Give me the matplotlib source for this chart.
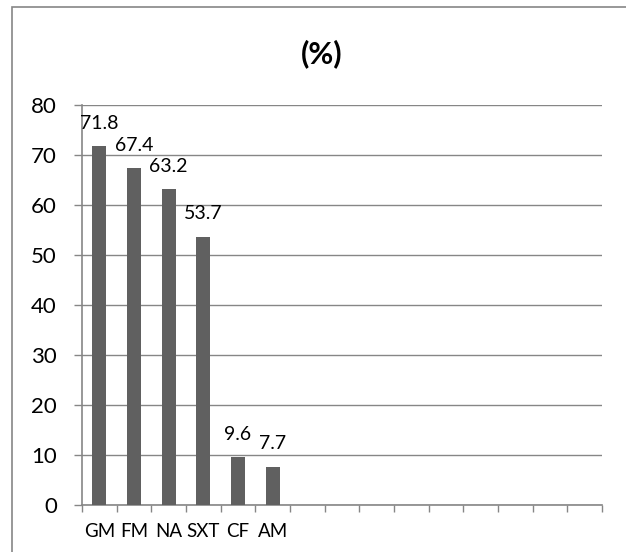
import matplotlib
matplotlib.use("Agg")
import matplotlib.pyplot as plt
from matplotlib.patches import Rectangle
import numpy as np

plt.rcParams['font.family'] = ['Lato', 'DejaVu Sans']

categories = ["GM", "FM", "NA", "SXT", "CF", "AM"]
values = [71.8, 67.4, 63.2, 53.7, 9.6, 7.7]
n_slots = 15
y_ticks = [0, 10, 20, 30, 40, 50, 60, 70, 80]
title = "(%)"

grid_col = "#868686"
bar_col = "#606060"

fig = plt.figure(figsize=(6.26, 5.52), dpi=100)
fig.patch.set_facecolor("white")

# chart area border
fig.patches.append(Rectangle((11.5 / 626, -0.2), 1.2, (552 - 6.5) / 552 + 0.2,
                             transform=fig.transFigure, fill=False,
                             edgecolor=grid_col, linewidth=1.2, zorder=0))

ax = fig.add_axes([82 / 626, 1 - 505 / 552, (602 - 82) / 626, 400 / 552])
x = np.arange(len(categories))
ax.bar(x, values, width=0.4, color=bar_col, zorder=3)

for xi, v in zip(x, values):
    ax.annotate(f"{v}", (xi, v), xytext=(0, 16.5), textcoords="offset points",
                ha="center", va="center", fontsize=14, color="black")

ax.set_xlim(-0.5, n_slots - 0.5)
ax.set_ylim(0, 80)
ax.set_yticks(y_ticks)
ax.set_yticklabels([str(t) for t in y_ticks], fontsize=16)
ax.set_xticks(x)
ax.set_xticklabels(categories, fontsize=13.5)
ax.set_xticks(np.arange(n_slots + 1) - 0.5, minor=True)

ax.tick_params(axis="y", which="major", length=6, width=1, color=grid_col, pad=12)
ax.tick_params(axis="x", which="major", length=0, pad=13)
ax.tick_params(axis="x", which="minor", length=5, width=1, color=grid_col)

ax.yaxis.grid(True, color=grid_col, linewidth=1, zorder=0)
ax.set_axisbelow(True)
for s in ["top", "right"]:
    ax.spines[s].set_visible(False)
for s in ["left", "bottom"]:
    ax.spines[s].set_color(grid_col)
    ax.spines[s].set_linewidth(1.2)

fig.text(322 / 626, 1 - 54 / 552, title, ha="center", va="center",
         fontsize=22, fontweight="bold")

fig.savefig("out.png", dpi=100)
